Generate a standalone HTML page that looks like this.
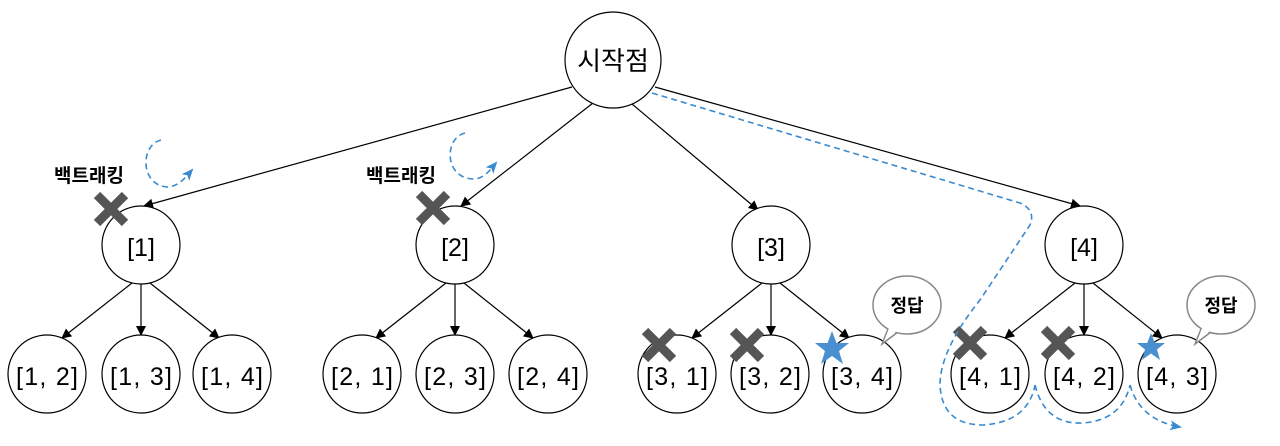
<!DOCTYPE html>
<html><head><meta charset="utf-8"><style>
html,body{margin:0;padding:0;background:#fff;}
svg{display:block;}
text{font-family:"Liberation Sans","Noto Sans CJK KR",sans-serif;}
</style></head><body>
<svg width="1280" height="446" viewBox="0 0 1280 446" xmlns="http://www.w3.org/2000/svg">
<defs>
<marker id="a" markerWidth="10" markerHeight="10" refX="9" refY="5" orient="auto" markerUnits="userSpaceOnUse"><path d="M0,0 L10,5 L0,10 z" fill="#000"/></marker>
<marker id="b" markerWidth="12" markerHeight="10" refX="10" refY="5" orient="auto" markerUnits="userSpaceOnUse"><path d="M0,0 L12,5 L0,10 L3,5 z" fill="#3a8ad0"/></marker>
</defs>
<g stroke="#000" stroke-width="1.2" fill="none" marker-end="url(#a)">
<line x1="572" y1="87" x2="144" y2="206"/>
<line x1="593" y1="103" x2="461" y2="206"/>
<line x1="632" y1="104" x2="758" y2="210"/>
<line x1="655" y1="87" x2="1080" y2="206"/>
<line x1="132" y1="283" x2="62" y2="338"/>
<line x1="141" y1="284" x2="141" y2="335"/>
<line x1="150" y1="283" x2="219" y2="338"/>
<line x1="446" y1="283" x2="376" y2="338"/>
<line x1="455" y1="284" x2="455" y2="335"/>
<line x1="464" y1="283" x2="533" y2="338"/>
<line x1="762" y1="283" x2="692" y2="338"/>
<line x1="771" y1="284" x2="771" y2="335"/>
<line x1="780" y1="283" x2="849" y2="338"/>
<line x1="1075" y1="283" x2="1005" y2="338"/>
<line x1="1084" y1="284" x2="1084" y2="335"/>
<line x1="1093" y1="283" x2="1162" y2="338"/>
</g>
<g stroke="#000" stroke-width="1.2" fill="#fff">
<circle cx="613" cy="60" r="48"/>
<circle cx="141" cy="245" r="39"/><circle cx="455" cy="245" r="39"/>
<circle cx="771" cy="245" r="39"/><circle cx="1084" cy="245" r="39"/>
<circle cx="47" cy="374" r="39"/><circle cx="141" cy="374" r="39"/><circle cx="232" cy="374" r="39"/>
<circle cx="362" cy="374" r="39"/><circle cx="455" cy="374" r="39"/><circle cx="548" cy="374" r="39"/>
<circle cx="677" cy="374" r="39"/><circle cx="770" cy="374" r="39"/><circle cx="862" cy="374" r="39"/>
<circle cx="990" cy="374" r="39"/><circle cx="1084" cy="374" r="39"/><circle cx="1177" cy="374" r="39"/>
</g>
<g font-size="26" text-anchor="middle" fill="#000" transform="translate(0,0)">
<text x="613" y="70" font-size="26">시작점</text>
</g>
<g font-size="25" text-anchor="middle" fill="#000" textLength="60">
<text x="141" y="256">[1]</text><text x="455" y="256">[2]</text>
<text x="771" y="256">[3]</text><text x="1084" y="256">[4]</text>
<text x="47" y="385" textLength="62">[1, 2]</text><text x="141" y="385" textLength="62">[1, 3]</text><text x="232" y="385" textLength="62">[1, 4]</text>
<text x="362" y="385" textLength="62">[2, 1]</text><text x="455" y="385" textLength="62">[2, 3]</text><text x="548" y="385" textLength="62">[2, 4]</text>
<text x="677" y="385" textLength="62">[3, 1]</text><text x="770" y="385" textLength="62">[3, 2]</text><text x="862" y="385" textLength="62">[3, 4]</text>
<text x="990" y="385" textLength="62">[4, 1]</text><text x="1084" y="385" textLength="62">[4, 2]</text><text x="1177" y="385" textLength="62">[4, 3]</text>
</g>
<g font-size="19" fill="#000" font-weight="bold">
<text x="54" y="182">백트래킹</text>
<text x="366" y="182">백트래킹</text>
</g>
<!-- bubbles -->
<g stroke="#888" stroke-width="1.5" fill="#fff">
<path d="M888,329 L882,344 L898,332"/>
<ellipse cx="907" cy="305" rx="34" ry="29"/>
<path d="M1201,329 L1195,344 L1211,332"/>
<ellipse cx="1221" cy="305" rx="34" ry="29"/>
</g>
<g stroke="none" fill="#fff">
<path d="M889,328 L885,340 L897,331 Z"/>
<path d="M1202,328 L1198,340 L1210,331 Z"/>
</g>
<g font-size="18" text-anchor="middle" fill="#000" font-weight="bold">
<text x="907" y="312">정답</text><text x="1221" y="312">정답</text>
</g>
<!-- crosses -->
<g stroke="#555" stroke-width="9" stroke-linecap="butt">
<path d="M97,195 L125,223 M125,195 L97,223"/>
<path d="M419,194 L447,222 M447,194 L419,222"/>
<path d="M645,331 L673,359 M673,331 L645,359"/>
<path d="M733,331 L761,359 M761,331 L733,359"/>
<path d="M956,329 L984,357 M984,329 L956,357"/>
<path d="M1044,329 L1072,357 M1072,329 L1044,357"/>
</g>
<!-- stars -->
<g fill="#4a90d0">
<polygon points="832,331 836.5,343 849,343 839,351 843,364 832,356 821,364 825,351 815,343 827.5,343"/>
<polygon points="1151,333 1154.8,343 1165,343 1157,349.5 1160,360 1151,353.5 1142,360 1145,349.5 1137,343 1147.2,343"/>
</g>
<!-- dashed paths -->
<g stroke="#3a8ad0" stroke-width="1.6" fill="none" stroke-dasharray="6,4">
<path d="M161,140 C140,145 140,185 167,187 C178,187 185,178 192,170" marker-end="url(#b)"/>
<path d="M465,133 C444,138 444,178 473,179 C484,179 490,170 496,163" marker-end="url(#b)"/>
<path d="M652,93 L1020,203 Q1036,210 1030,225 L980,300 Q940,350 940,385 Q942,425 983,425 Q1028,422 1035,385" />
<path d="M1035,385 Q1045,425 1083,423 Q1122,420 1130,385"/>
<path d="M1130,385 Q1140,420 1180,427" marker-end="url(#b)"/>
</g>
</svg>
</body></html>
